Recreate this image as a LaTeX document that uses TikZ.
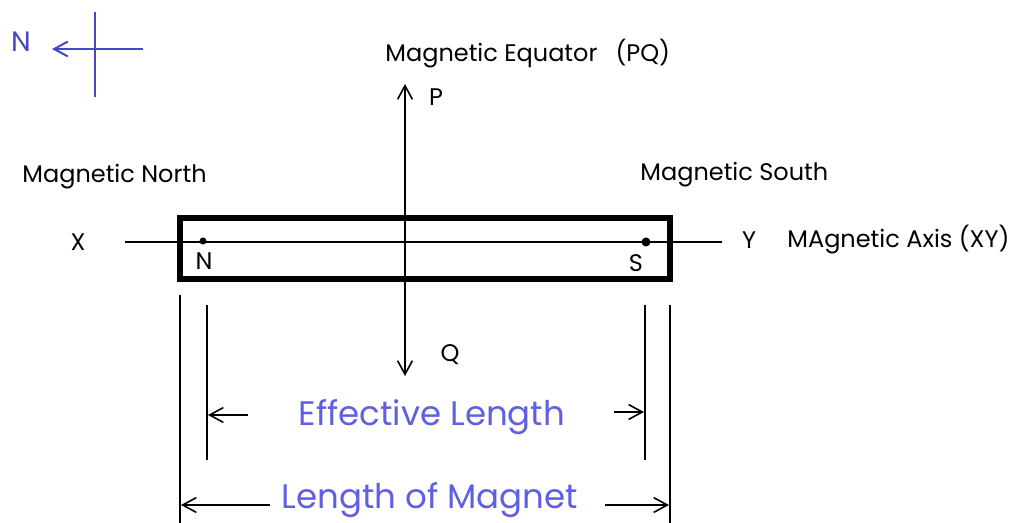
\documentclass[tikz,border=0pt]{standalone}
\usepackage{fontspec}
\setmainfont{Poppins}
\usetikzlibrary{arrows.meta,positioning}
\definecolor{compassblue}{RGB}{70,70,200}
\definecolor{labelblue}{RGB}{95,95,225}
\begin{document}
\begin{tikzpicture}[x=0.5pt,y=-0.5pt,
  lbl/.style={font=\fontsize{12}{14}\selectfont,inner sep=0pt},
  dimtxt/.style={font=\fontsize{17}{20}\selectfont,text=labelblue,inner sep=0pt},
  ar/.style={-{Straight Barb[length=2.4mm,width=2.6mm]},line width=0.8pt},
  ln/.style={line width=0.9pt}]

 \useasboundingbox (0,0) rectangle (1011,523);

 % ---- compass ----
 \coordinate (cw) at (52,49);
 \coordinate (ce) at (143,49);
 \coordinate (cn) at (95,12);
 \coordinate (cs) at (95,97);
 \draw[compassblue,line width=1pt] (cn) -- (cs);
 \draw[compassblue,ar,line width=1pt] (ce) -- (cw);
 \node[lbl,font=\fontsize{14}{16}\selectfont,text=compassblue] (north) at (21,42) {N};

 % ---- magnet and axis ----
 \coordinate (mag1) at (180,218);
 \coordinate (mag2) at (670,279);
 \draw[line width=3.2pt] (mag1) rectangle (mag2);
 \coordinate (axX) at (125,242);
 \coordinate (axY) at (722,242);
 \draw[ln] (axX) -- (axY);
 \node[lbl] (x) at (78,242) {X};
 \node[lbl] (y) at (749,240) {Y};
 \node[lbl,anchor=west] (axis) at (787,240) {MAgnetic Axis (XY)};
 \fill (203,241) circle (3.5);
 \fill (646,242) circle (4.5);
 \node[lbl] (npole) at (204,261) {N};
 \node[lbl] (spole) at (636,263) {S};
 \node[lbl,anchor=west] (mnorth) at (22,177) {Magnetic North};
 \node[lbl,anchor=west] (msouth) at (640,175) {Magnetic South};

 % ---- equator ----
 \coordinate (eqP) at (405,84);
 \coordinate (eqQ) at (405,376);
 \draw[ar,{Straight Barb[length=2.4mm,width=2.6mm]}-{Straight Barb[length=2.4mm,width=2.6mm]}] (eqQ) -- (eqP);
 \node[lbl,anchor=west] (equator) at (385,54) {Magnetic Equator\hspace{9pt}(PQ)};
 \node[lbl] (p) at (436,97) {P};
 \node[lbl] (q) at (450,355) {Q};

 % ---- extension lines ----
 \coordinate (o1) at (180,295); \coordinate (o1b) at (180,523);
 \coordinate (o2) at (670,305); \coordinate (o2b) at (670,523);
 \coordinate (i1) at (207,305); \coordinate (i1b) at (207,460);
 \coordinate (i2) at (645,305); \coordinate (i2b) at (645,460);
 \draw[ln] (o1) -- (o1b);
 \draw[ln] (o2) -- (o2b);
 \draw[ln] (i1) -- (i1b);
 \draw[ln] (i2) -- (i2b);

 % ---- dimensions ----
 \node[dimtxt] (eff) at (432,417) {Effective Length};
 \coordinate (e1) at (248,415); \coordinate (e1h) at (208,415);
 \coordinate (e2) at (614,412); \coordinate (e2h) at (644,412);
 \draw[ar] (e1) -- (e1h);
 \draw[ar] (e2) -- (e2h);
 \node[dimtxt] (len) at (430,500) {Length of Magnet};
 \coordinate (l1) at (270,505); \coordinate (l1h) at (181,505);
 \coordinate (l2) at (605,505); \coordinate (l2h) at (669,505);
 \draw[ar] (l1) -- (l1h);
 \draw[ar] (l2) -- (l2h);
\end{tikzpicture}
\end{document}
